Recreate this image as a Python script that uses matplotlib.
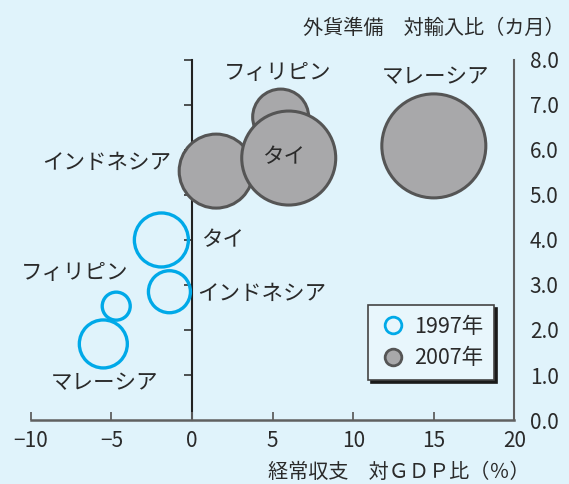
import matplotlib
matplotlib.use("Agg")
import matplotlib.pyplot as plt
from matplotlib.lines import Line2D

plt.rcParams['font.family'] = ['Noto Sans CJK JP', 'DejaVu Sans']

# 経常収支（対GDP比, %）と外貨準備（対輸入比, カ月）
countries97 = ["タイ", "インドネシア", "フィリピン", "マレーシア"]
ca97 = [-1.9, -1.4, -4.7, -5.5]
res97 = [4.0, 2.85, 2.53, 1.69]
bub97 = [27, 21, 14, 24]

countries07 = ["フィリピン", "インドネシア", "タイ", "マレーシア"]
ca07 = [5.5, 1.5, 6.0, 15.0]
res07 = [6.73, 5.53, 5.82, 6.09]
bub07 = [28, 37, 47, 52]

xticks = [-10, -5, 0, 5, 10, 15, 20]
yticks = [0, 1, 2, 3, 4, 5, 6, 7, 8]

bg = '#e0f3fb'
blue = '#00a9e8'
gray = '#a8a8aa'
edge = '#555555'
ink = '#2a2a2a'


def area(r):
    # bubble radius (px) -> scatter size (pt^2)
    return [(2 * v * 0.72) ** 2 for v in r]


fig = plt.figure(figsize=(5.69, 4.84), dpi=100, facecolor=bg)
ax = fig.add_axes([0.0541, 0.1322, 0.850, 0.744])
ax.set_facecolor(bg)
ax.set_xlim(-10, 20)
ax.set_ylim(0, 8)

ax.scatter(ca97, res97, s=area(bub97), facecolors='none', edgecolors=blue,
           linewidths=2.4, zorder=3)
ax.scatter(ca07, res07, s=area(bub07), facecolors=gray, edgecolors=edge,
           linewidths=2.2, zorder=3)

# 国名ラベル
fs = 15.5
ax.text(5.3, 7.71, "フィリピン", ha='center', va='center', fontsize=fs, color=ink)
ax.text(15.1, 7.62, "マレーシア", ha='center', va='center', fontsize=fs, color=ink)
ax.text(-5.3, 5.71, "インドネシア", ha='center', va='center', fontsize=fs, color=ink)
ax.text(5.7, 5.84, "タイ", ha='center', va='center', fontsize=fs, color=ink, zorder=4)
ax.text(0.55, 4.0, "タイ", ha='left', va='center', fontsize=fs, color=ink)
ax.text(0.3, 2.8, "インドネシア", ha='left', va='center', fontsize=fs, color=ink)
ax.text(-7.25, 3.27, "フィリピン", ha='center', va='center', fontsize=fs, color=ink)
ax.text(-5.45, 0.82, "マレーシア", ha='center', va='center', fontsize=fs, color=ink)

# 軸
for side in ['top', 'left']:
    ax.spines[side].set_visible(False)
ax.spines['bottom'].set_color('#606060')
ax.spines['bottom'].set_linewidth(1.8)
ax.spines['right'].set_color('#606060')
ax.spines['right'].set_linewidth(1.5)

ax.set_xticks(xticks)
ax.set_xticklabels([str(t).replace('-', '\u2212') for t in xticks])
ax.tick_params(axis='x', direction='in', length=6, width=1.3, color='#606060',
               labelsize=15, pad=7, labelcolor=ink)

ax.yaxis.tick_right()
ax.set_yticks(yticks)
ax.set_yticklabels([f"{t:.1f}" for t in yticks])
ax.tick_params(axis='y', length=0, pad=11, labelsize=15, labelcolor=ink)

# x=0 の縦軸
mid = ax.secondary_yaxis(1 / 3)
mid.set_yticks(yticks[1:])
mid.tick_params(axis='y', direction='out', length=6, width=1.2, color='#333333',
                labelleft=False, labelright=False)
mid.spines['left'].set_color('#222222')
mid.spines['left'].set_linewidth(1.5)

handles = [
    Line2D([], [], marker='o', ls='', mfc='none', mec=blue, mew=2, ms=12),
    Line2D([], [], marker='o', ls='', mfc=gray, mec=edge, mew=2, ms=12),
]
leg = ax.legend(handles, ["1997年", "2007年"], loc='lower left',
                bbox_to_anchor=(0.697, 0.111), borderaxespad=0,
                fontsize=fs, frameon=True, fancybox=False,
                shadow={'color': '#1a1a1a', 'alpha': 1},
                handletextpad=0.35, borderpad=0.5, labelspacing=0.45,
                handlelength=1.3)
leg.get_frame().set_facecolor('#e8f6fc')
leg.get_frame().set_edgecolor('#444444')
leg.get_frame().set_linewidth(1.2)
leg.get_frame().set_alpha(1)
for t in leg.get_texts():
    t.set_color(ink)

fig.text(565 / 569, 1 - 28 / 484, "外貨準備　対輸入比（カ月）", ha='right',
         va='center', fontsize=14.5, color=ink)
fig.text(530 / 569, 1 - 472 / 484, "経常収支　対ＧＤＰ比（％）", ha='right',
         va='center', fontsize=14.5, color=ink)

fig.savefig("out.png", dpi=100, facecolor=bg)
